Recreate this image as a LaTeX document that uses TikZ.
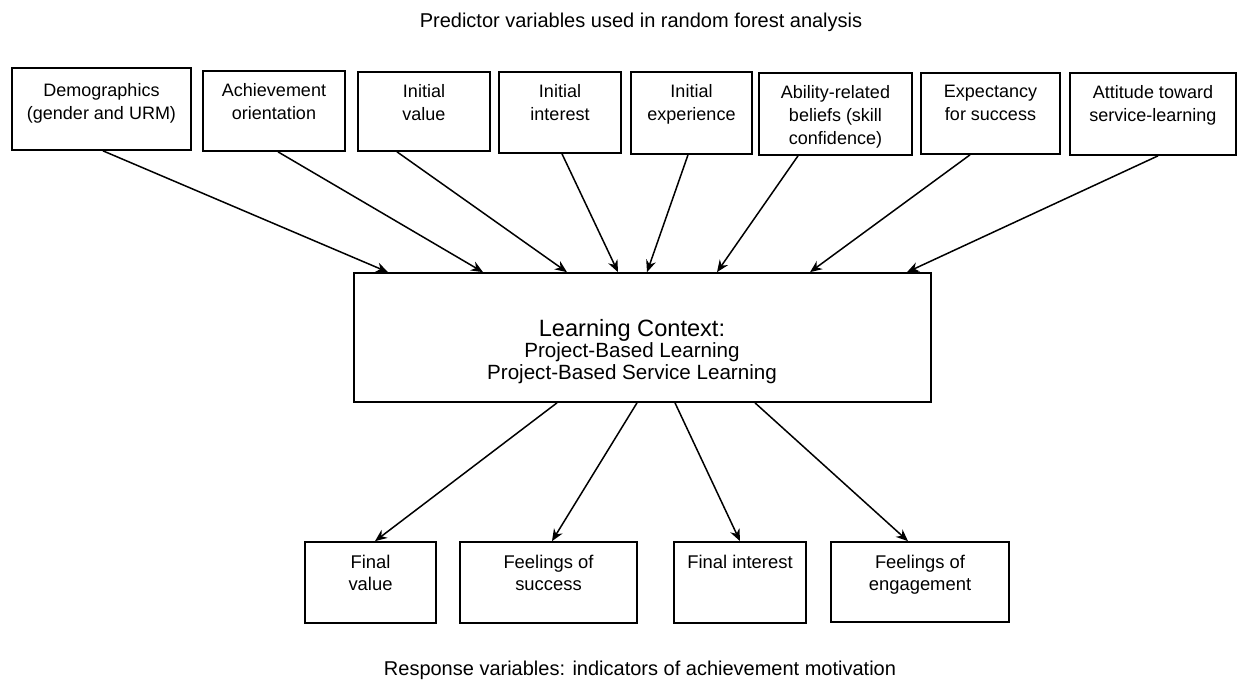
\documentclass[tikz,border=0pt]{standalone}
\usepackage{fontspec}
\setmainfont{Liberation Sans}
\usetikzlibrary{arrows.meta,fit}
\begin{document}
\begin{tikzpicture}[x=0.5pt,y=-0.5pt,
  box/.style={draw, line width=0.85pt, inner sep=0pt},
  boxtxt/.style={anchor=north, inner sep=0pt, align=center, font=\fontsize{9}{11.5}\selectfont},
  restxt/.style={anchor=north, inner sep=0pt, align=center, font=\fontsize{9.2}{11}\selectfont},
  title/.style={anchor=base, inner sep=0pt, font=\fontsize{10}{12}\selectfont},
  arr/.style={-{Stealth[length=6pt,width=5pt]}, line width=0.75pt}]
\useasboundingbox (0,0) rectangle (1238,680);

% titles
\node[title] (ttop) at (641,27) {Predictor variables used in random forest analysis};
\node[title] (tbot) at (640,675) {Response variables: indicators of achievement motivation};

% predictor boxes
\node[box, fit={(12,68) (191,150)}] (d1) {};
\node[box, fit={(203,71) (345,151)}] (d2) {};
\node[box, fit={(358,72) (490,151)}] (d3) {};
\node[box, fit={(499,72) (621,153)}] (d4) {};
\node[box, fit={(631,72) (752,154)}] (d5) {};
\node[box, fit={(759,73) (912,155)}] (d6) {};
\node[box, fit={(921,73) (1060,154)}] (d7) {};
\node[box, fit={(1070,73) (1236,155)}] (d8) {};

\node[boxtxt] (l1) at ([yshift=-8pt]d1.north) {Demographics\\(gender and URM)};
\node[boxtxt] (l2) at ([yshift=-6.5pt]d2.north) {Achievement\\orientation};
\node[boxtxt] (l3) at ([yshift=-6.5pt]d3.north) {Initial\\value};
\node[boxtxt] (l4) at ([yshift=-6.5pt]d4.north) {Initial\\interest};
\node[boxtxt] (l5) at ([yshift=-6.5pt]d5.north) {Initial\\experience};
\node[boxtxt] (l6) at ([yshift=-6.5pt]d6.north) {Ability-related\\beliefs (skill\\confidence)};
\node[boxtxt] (l7) at ([yshift=-6.5pt]d7.north) {Expectancy\\for success};
\node[boxtxt] (l8) at ([yshift=-6.5pt]d8.north) {Attitude toward\\service-learning};

% learning context
\node[box, fit={(354,273) (931,402)}] (ctx) {};
\node[anchor=base, inner sep=0pt, font=\fontsize{11.8}{13}\selectfont] (c1) at (632,336) {Learning Context:};
\node[anchor=base, inner sep=0pt, font=\fontsize{10.3}{12}\selectfont] (c2) at (632,357) {Project-Based Learning};
\node[anchor=base, inner sep=0pt, font=\fontsize{10.3}{12}\selectfont] (c3) at (632,379) {Project-Based Service Learning};

% response boxes
\node[box, fit={(305,542) (436,623)}] (r1) {};
\node[box, fit={(460,542) (637,623)}] (r2) {};
\node[box, fit={(674,542) (806,623)}] (r3) {};
\node[box, fit={(831,542) (1009,622)}] (r4) {};

\node[restxt] (s1) at ([yshift=-7pt]r1.north) {Final\\value};
\node[restxt] (s2) at ([yshift=-7pt]r2.north) {Feelings of\\success};
\node[restxt] (s3) at ([yshift=-7pt]r3.north) {Final interest};
\node[restxt] (s4) at ([yshift=-7pt]r4.north) {Feelings of\\engagement};

% predictors into the learning context
\draw[arr] ([shift={(1.5,0)}]d1.south) -- ([shift={(-254.5,0)}]ctx.north);
\draw[arr] ([shift={(4,0)}]d2.south) -- ([shift={(-159.5,0)}]ctx.north);
\draw[arr] ([shift={(-27,0)}]d3.south) -- ([shift={(-75.5,0)}]ctx.north);
\draw[arr] ([shift={(2,0)}]d4.south) -- ([shift={(-24.5,0)}]ctx.north);
\draw[arr] ([shift={(-3.5,0)}]d5.south) -- ([shift={(4.5,0)}]ctx.north);
\draw[arr] ([shift={(-37.5,0)}]d6.south) -- ([shift={(74.5,0)}]ctx.north);
\draw[arr] ([shift={(-20.5,0)}]d7.south) -- ([shift={(167.5,0)}]ctx.north);
\draw[arr] ([shift={(5,0)}]d8.south) -- ([shift={(264.5,0)}]ctx.north);

% learning context onto the responses
\draw[arr] ([shift={(-85.5,0)}]ctx.south) -- ([shift={(4.5,0)}]r1.north);
\draw[arr] ([shift={(-5.5,0)}]ctx.south) -- ([shift={(3.5,0)}]r2.north);
\draw[arr] ([shift={(32.5,0)}]ctx.south) -- (r3.north);
\draw[arr] ([shift={(112.5,0)}]ctx.south) -- ([shift={(-12,0)}]r4.north);
\end{tikzpicture}
\end{document}
